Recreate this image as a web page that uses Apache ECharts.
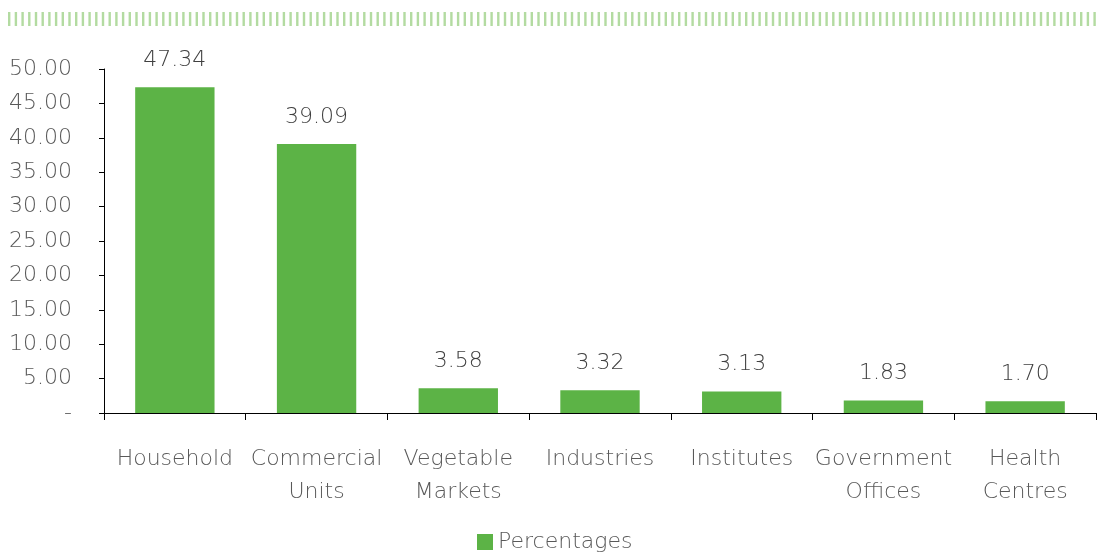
<!DOCTYPE html>
<html><head><meta charset="utf-8">
<script src="https://cdn.jsdelivr.net/npm/echarts@6/dist/echarts.min.js"></script>
<style>html,body{margin:0;padding:0;background:#fff}#c{width:1097px;height:553px}</style>
</head><body><div id="c"></div>
<script>
const categories = ['Household', 'Commercial\nUnits', 'Vegetable\nMarkets', 'Industries', 'Institutes', 'Government\nOffices', 'Health\nCentres'];
const percentages = [47.34, 39.09, 3.58, 3.32, 3.13, 1.83, 1.70];
const seriesName = 'Percentages';
const FONT = 'DejaVu Sans';
const FW = 300;
const TXT = '#595959';
const chart = echarts.init(document.getElementById('c'), null, {renderer: 'canvas'});
chart.setOption({
  animation: false,
  textStyle: {fontFamily: FONT},
  graphic: [{
    type: 'line', silent: true,
    shape: {x1: 8, y1: 19, x2: 1097, y2: 19},
    style: {stroke: '#b3dba1', lineWidth: 14, lineDash: [2.4, 4.3]}
  }],
  grid: {left: 104, right: 1, top: 69, bottom: 140, containLabel: false},
  legend: {
    left: 477, top: 531, padding: 0, icon: 'rect', itemWidth: 16, itemHeight: 16, itemGap: 6,
    textStyle: {fontSize: 22, color: TXT, fontFamily: FONT, fontWeight: FW},
    data: [seriesName]
  },
  xAxis: {
    type: 'category', data: categories,
    axisLine: {lineStyle: {color: '#000', width: 1}},
    axisTick: {show: true, length: 7, lineStyle: {color: '#000'}},
    axisLabel: {fontSize: 22, color: TXT, lineHeight: 33, margin: 30, interval: 0, fontFamily: FONT, fontWeight: FW}
  },
  yAxis: {
    type: 'value', min: 0, max: 50, interval: 5,
    splitLine: {show: false},
    axisLine: {show: true, lineStyle: {color: '#000', width: 1}},
    axisTick: {show: true, length: 5, lineStyle: {color: '#000'}},
    axisLabel: {fontSize: 22, color: TXT, margin: 32, fontFamily: FONT, fontWeight: FW,
      formatter: v => v === 0 ? '-' : v.toFixed(2)}
  },
  series: [{
    name: seriesName, type: 'bar', data: percentages,
    barWidth: '56%',
    itemStyle: {color: '#5cb346'},
    label: {show: true, position: 'top', distance: 16, fontSize: 22, color: '#404040', fontFamily: FONT, fontWeight: FW,
      formatter: p => p.value.toFixed(2)}
  }]
});
</script></body></html>
